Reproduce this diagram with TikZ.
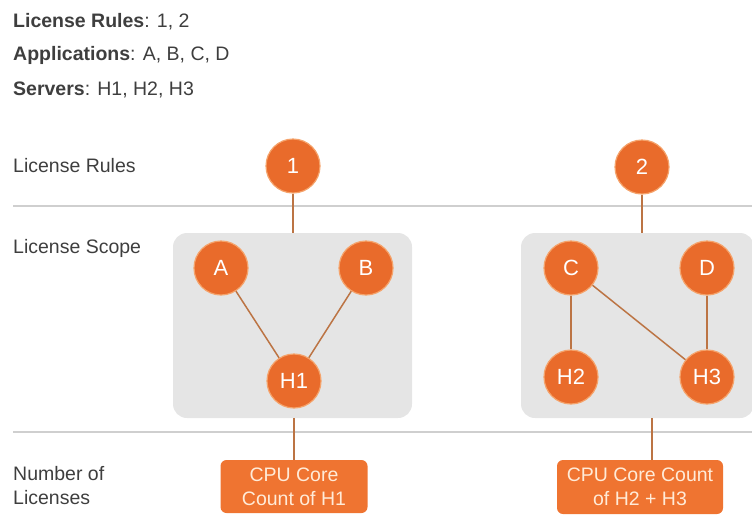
\documentclass[tikz,border=0pt]{standalone}
\usepackage{fontspec}
\setmainfont{Liberation Sans}
\definecolor{orng}{HTML}{E96B2B}
\definecolor{orngedge}{HTML}{F5A36B}
\definecolor{orngbox}{HTML}{EF7431}
\definecolor{connc}{HTML}{BC7444}
\definecolor{scopegray}{HTML}{E5E5E5}
\definecolor{linegray}{HTML}{CFCFCF}
\definecolor{txtgray}{HTML}{3E3E3E}
\definecolor{cream}{HTML}{FFEBD8}
\begin{document}
\begin{tikzpicture}[x=1pt,y=-1pt,
  lbl/.style={font=\fontsize{19.5}{24}\selectfont, text=txtgray, anchor=base west, inner sep=0pt, align=left},
  circ/.style={circle, fill=orng, draw=orngedge, line width=1.2pt, minimum size=54pt, inner sep=0pt, text=white, font=\fontsize{22}{22}\selectfont},
  scopebox/.style={rectangle, rounded corners=14pt, fill=scopegray, inner sep=0pt},
  cpubox/.style={rectangle, rounded corners=6pt, fill=orngbox, text=cream, align=center, inner sep=0pt, font=\fontsize{19.5}{24}\selectfont},
  conn/.style={draw=connc, line width=1.5pt},
  hrule/.style={draw=linegray, line width=1.6pt}]
\useasboundingbox (0,0) rectangle (752,517);

% header text
\node[lbl] (t1) at (13,27) {\textbf{License Rules}: 1, 2};
\node[lbl] (t2) at (13,60) {\textbf{Applications}: A, B, C, D};
\node[lbl] (t3) at (13,95) {\textbf{Servers}: H1, H2, H3};

% row labels
\node[lbl] (lr) at (13,172) {License Rules};
\node[lbl] (ls) at (13,253) {License Scope};
\node[lbl] (ln) at (13,504) {Number of\\Licenses};

% horizontal rules
\coordinate (h1a) at (13,206);
\coordinate (h1b) at (752,206);
\coordinate (h2a) at (13,432);
\coordinate (h2b) at (752,432);
\draw[hrule] (h1a) -- (h1b);
\draw[hrule] (h2a) -- (h2b);

% scope boxes
\node[scopebox, minimum width=239pt, minimum height=185pt] (s1) at (292.5,325.5) {};
\node[scopebox, minimum width=233pt, minimum height=185pt] (s2) at (637.5,325.5) {};

% rule circles
\node[circ] (r1) at (293,166) {1};
\node[circ] (r2) at (642,167) {2};

% application / server circles
\node[circ] (a) at (221,268) {A};
\node[circ] (b) at (366,268) {B};
\node[circ] (h1) at (294,381) {H1};
\node[circ] (c) at (571,268) {C};
\node[circ] (d) at (707,268) {D};
\node[circ] (h2) at (571,377) {H2};
\node[circ] (h3) at (707,377) {H3};

% cpu boxes
\node[cpubox, minimum width=147pt, minimum height=53pt] (p1) at (294,486.5) {CPU Core\\Count of H1};
\node[cpubox, minimum width=166pt, minimum height=54pt] (p2) at (640,487) {CPU Core Count\\of H2 + H3};

% connectors
\draw[conn] (r1) -- (r1 |- s1.north);
\draw[conn] (r2) -- (r2 |- s2.north);
\coordinate (q1) at (294,0);
\coordinate (q2) at (652,0);
\draw[conn] (q1 |- s1.south) -- (q1 |- p1.north);
\draw[conn] (q2 |- s2.south) -- (q2 |- p2.north);
\draw[conn] (a) -- (h1);
\draw[conn] (b) -- (h1);
\draw[conn] (c) -- (h2);
\draw[conn] (c) -- (h3);
\draw[conn] (d) -- (h3);
\end{tikzpicture}
\end{document}
